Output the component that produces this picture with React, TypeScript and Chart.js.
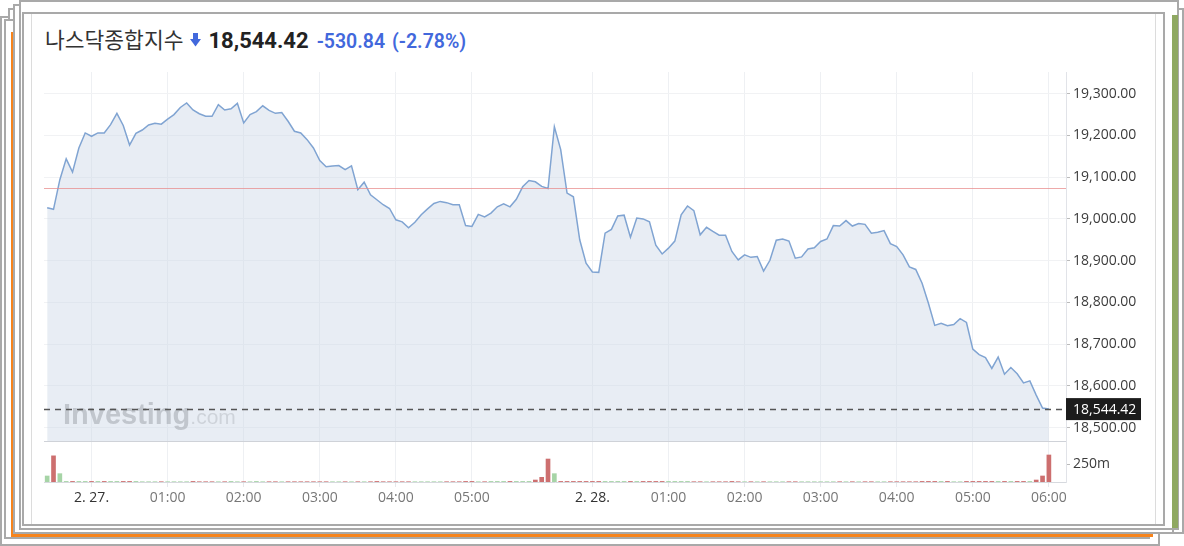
import React, { useEffect, useRef } from "react";
import { Chart, registerables } from "chart.js";

Chart.register(...registerables);

// ---- data ----
const prices: number[] = [
  19027, 19023, 19094, 19144, 19112, 19170, 19206, 19198, 19206, 19206,
  19226, 19253, 19224, 19177, 19205, 19213, 19225, 19229, 19227, 19239,
  19250, 19267, 19278, 19261, 19252, 19246, 19246, 19274, 19261, 19264,
  19277, 19230, 19250, 19257, 19271, 19260, 19253, 19255, 19234, 19210,
  19206, 19190, 19170, 19140, 19125, 19127, 19128, 19118, 19127, 19070,
  19088, 19058, 19046, 19034, 19025, 18998, 18993, 18979, 18992, 19010,
  19024, 19037, 19042, 19039, 19034, 19034, 18984, 18982, 19011, 19005,
  19014, 19029, 19036, 19029, 19047, 19077, 19092, 19089, 19078, 19073,
  19221, 19166, 19062, 19053, 18950, 18894, 18873, 18872, 18966, 18975,
  19007, 19009, 18956, 19002, 19000, 18993, 18937, 18916, 18930, 18947,
  19010, 19031, 19020, 18962, 18980, 18970, 18961, 18961, 18922, 18902,
  18914, 18908, 18910, 18875, 18901, 18949, 18952, 18947, 18906, 18909,
  18928, 18931, 18946, 18952, 18984, 18983, 18996, 18983, 18989, 18987,
  18966, 18968, 18972, 18941, 18934, 18914, 18885, 18879, 18846, 18798,
  18745, 18750, 18744, 18747, 18761, 18752, 18688, 18675, 18668, 18642,
  18669, 18628, 18644, 18629, 18607, 18612, 18578, 18547, 18544.42,
];

// volume in millions
const volumes: number[] = [
  85, 370, 118, 8, 8, 8, 8, 8, 8, 8,
  8, 8, 8, 8, 8, 4, 4, 4, 4, 4,
  4, 4, 4, 8, 4, 4, 4, 4, 4, 8,
  4, 4, 4, 8, 4, 4, 4, 4, 4, 4,
  4, 4, 4, 4, 4, 4, 4, 4, 4, 4,
  4, 4, 8, 4, 4, 4, 4, 4, 4, 4,
  4, 4, 4, 4, 4, 4, 8, 8, 4, 4,
  8, 8, 8, 8, 8, 8, 8, 28, 66, 325,
  118, 8, 8, 8, 8, 8, 8, 8, 8, 8,
  8, 8, 8, 8, 8, 8, 8, 8, 8, 8,
  8, 8, 4, 4, 4, 4, 4, 4, 8, 4,
  4, 4, 4, 4, 4, 4, 4, 4, 4, 4,
  4, 4, 4, 4, 4, 4, 4, 4, 4, 4,
  4, 4, 4, 4, 4, 4, 4, 4, 8, 8,
  8, 8, 8, 4, 4, 8, 8, 8, 8, 8,
  8, 8, 8, 8, 8, 8, 28, 85, 382,
];

const sessionStarts: string[] = ["2025-02-26T23:25:00Z", "2025-02-27T23:30:00Z"];
const sessionLengths: number[] = [80, 79];

const xTickTimes: string[] = [
  "02-27 00:00", "02-27 01:00", "02-27 02:00", "02-27 03:00", "02-27 04:00", "02-27 05:00",
  "02-28 00:00", "02-28 01:00", "02-28 02:00", "02-28 03:00", "02-28 04:00", "02-28 05:00", "02-28 06:00",
];
const xTickLabels: string[] = [
  "2. 27.", "01:00", "02:00", "03:00", "04:00", "05:00",
  "2. 28.", "01:00", "02:00", "03:00", "04:00", "05:00", "06:00",
];
const priceTicks: number[] = [18500, 18600, 18700, 18800, 18900, 19000, 19100, 19200, 19300];
const volumeTicks: number[] = [250];

const titleName = "나스닥종합지수";
const lastPrice = 18544.42;
const change = -530.84;
const changePct = -2.78;
const prevClose = 19075.26;

// ---- derived ----
const pad = (n: number) => String(n).padStart(2, "0");
const times: string[] = [];
sessionStarts.forEach((s, k) => {
  const t0 = Date.parse(s);
  for (let j = 0; j < sessionLengths[k]; j++) {
    const d = new Date(t0 + j * 5 * 60000);
    times.push(`${pad(d.getUTCMonth() + 1)}-${pad(d.getUTCDate())} ${pad(d.getUTCHours())}:${pad(d.getUTCMinutes())}`);
  }
});

const fmt2 = (v: number) =>
  v.toLocaleString("en-US", { minimumFractionDigits: 2, maximumFractionDigits: 2 });

const GREEN = "rgba(150,205,150,0.85)";
const RED = "rgba(200,95,95,0.9)";

const overlayPlugin = {
  id: "overlay",
  beforeDatasetsDraw(chart: any) {
    const { ctx, chartArea, scales } = chart;
    const paneBottom = scales.y.bottom;
    ctx.save();
    ctx.textBaseline = "alphabetic";
    ctx.fillStyle = "rgba(125,125,125,0.55)";
    ctx.font = "bold 29px 'Liberation Sans', Arial, sans-serif";
    const x0 = chartArea.left + 19;
    const yb = paneBottom - 17;
    ctx.fillText("Investing", x0, yb);
    const w = ctx.measureText("Investing").width;
    ctx.fillStyle = "rgba(150,150,150,0.45)";
    ctx.font = "21px 'Liberation Sans', Arial, sans-serif";
    ctx.fillText(".com", x0 + w, yb);
    ctx.restore();
  },
  afterDatasetsDraw(chart: any) {
    const { ctx, chartArea, scales } = chart;
    const y = scales.y;
    ctx.save();
    ctx.strokeStyle = "#cfd2d8";
    ctx.lineWidth = 1;
    ctx.beginPath();
    ctx.moveTo(chartArea.left, Math.round(y.bottom) + 0.5);
    ctx.lineTo(chartArea.right, Math.round(y.bottom) + 0.5);
    ctx.stroke();
    const yp = Math.round(y.getPixelForValue(prevClose)) + 0.5;
    ctx.strokeStyle = "rgba(232,140,140,0.75)";
    ctx.beginPath();
    ctx.moveTo(chartArea.left, yp);
    ctx.lineTo(chartArea.right, yp);
    ctx.stroke();
    const yl = Math.round(y.getPixelForValue(lastPrice)) + 0.5;
    ctx.strokeStyle = "#555";
    ctx.lineWidth = 1.3;
    ctx.setLineDash([6, 5]);
    ctx.beginPath();
    ctx.moveTo(chartArea.left, yl);
    ctx.lineTo(chartArea.right, yl);
    ctx.stroke();
    ctx.restore();
  },
  afterDraw(chart: any) {
    const { ctx, chartArea, scales } = chart;
    const yl = scales.y.getPixelForValue(lastPrice);
    ctx.save();
    ctx.fillStyle = "#1c1c1c";
    ctx.fillRect(chartArea.right, yl - 11, 75, 22);
    ctx.fillStyle = "#ffffff";
    ctx.font = "14px 'Open Sans', sans-serif";
    ctx.textBaseline = "middle";
    ctx.fillText(fmt2(lastPrice), chartArea.right + 7, yl + 1);
    ctx.restore();
  },
};

function PriceChart() {
  const ref = useRef<HTMLCanvasElement | null>(null);
  useEffect(() => {
    if (!ref.current) return;
    const lineData = prices.map((v, i) => ({ x: i, y: v }));
    const volData = volumes.map((v, i) => ({ x: i, y: v }));
    const volColors = volumes.map((_, i) => (i === 0 || prices[i] > prices[i - 1] ? GREEN : RED));
    const chart = new Chart(ref.current, {
      type: "line",
      data: {
        datasets: [
          {
            type: "line",
            data: lineData,
            yAxisID: "y",
            borderColor: "rgb(128,164,210)",
            borderWidth: 1.5,
            pointRadius: 0,
            fill: "start",
            backgroundColor: "rgba(205,215,230,0.45)",
            tension: 0,
          } as any,
          {
            type: "bar",
            data: volData,
            yAxisID: "yVol",
            backgroundColor: volColors,
            barThickness: 4,
          } as any,
        ],
      },
      options: {
        responsive: false,
        animation: false,
        devicePixelRatio: 1,
        layout: { padding: { left: 12, top: 12, right: 0, bottom: 0 } },
        plugins: { legend: { display: false }, tooltip: { enabled: false } },
        scales: {
          x: {
            type: "linear",
            offset: false,
            min: -0.5,
            max: 160.7,
            afterBuildTicks: (axis: any) => {
              axis.ticks = xTickTimes.map((t) => ({ value: times.indexOf(t) }));
            },
            afterFit: (axis: any) => {
              axis.height = 38;
            },
            grid: { offset: false, color: "#eef0f3", tickColor: "#e6e8ec", tickLength: 5, drawTicks: true },
            border: { color: "#d6d9de" },
            ticks: {
              autoSkip: false,
              maxRotation: 0,
              padding: 3,
              font: { family: "'Open Sans', sans-serif", size: 14 },
              color: (c: any) => (xTickLabels[c.index] && xTickLabels[c.index].startsWith("2.") ? "#333" : "#777"),
              callback: (_v: any, i: number) => xTickLabels[i],
            },
          },
          y: {
            type: "linear",
            position: "right",
            stack: "panes",
            stackWeight: 369,
            min: 18468,
            max: 19352,
            afterBuildTicks: (axis: any) => {
              axis.ticks = priceTicks.map((v) => ({ value: v }));
            },
            afterFit: (axis: any) => {
              axis.width = 88;
            },
            grid: { color: "#f1f2f4", tickColor: "#bbbbbb", tickLength: 4 },
            border: { color: "#e1e3e8" },
            ticks: {
              padding: 3,
              font: { family: "'Open Sans', sans-serif", size: 14 },
              color: "#3c3c3c",
              callback: (v: any) => fmt2(Number(v)),
            },
          },
          yVol: {
            type: "linear",
            position: "right",
            stack: "panes",
            stackWeight: 41,
            min: 0,
            max: 580,
            afterBuildTicks: (axis: any) => {
              axis.ticks = volumeTicks.map((v) => ({ value: v }));
            },
            afterFit: (axis: any) => {
              axis.width = 88;
            },
            grid: { color: "rgba(0,0,0,0)", tickColor: "#bbbbbb", tickLength: 4 },
            border: { color: "#e1e3e8" },
            ticks: {
              padding: 3,
              font: { family: "'Open Sans', sans-serif", size: 14 },
              color: "#3c3c3c",
              callback: (v: any) => `${v}m`,
            },
          },
        },
      } as any,
      plugins: [overlayPlugin as any],
    });
    return () => chart.destroy();
  }, []);
  return (
    <canvas
      ref={ref}
      width={1122}
      height={460}
      style={{ position: "absolute", left: 32, top: 60, width: 1122, height: 460 }}
    />
  );
}

const GRAY = "#a9a9a9";
const box = (left: number, top: number, right: number, bottom: number, extra: any = {}) => ({
  position: "absolute" as const,
  left,
  top,
  width: right - left,
  height: bottom - top,
  boxSizing: "border-box" as const,
  border: `2px solid ${GRAY}`,
  background: "#fff",
  ...extra,
});

export default function App() {
  const blue = "rgb(66,104,220)";
  return (
    <div style={{ position: "absolute", left: 0, top: 0, width: 1184, height: 546, background: "#fff", overflow: "hidden" }}>
      <div style={box(0, 16, 1160, 546)} />
      <div style={box(8, 8, 1184, 534)} />
      <div style={box(4, 19, 1150, 539)} />
      <div
        style={box(11, 32, 1153, 537, {
          border: "none",
          borderLeft: "3px solid #f7841c",
          borderBottom: "4px solid #f7841c",
        })}
      />
      <div style={box(13, 4, 1174, 534)} />
      <div style={box(19, 0, 1179, 530)} />
      <div style={{ position: "absolute", left: 1172, top: 15, width: 6, height: 513, background: "#8fa862" }} />
      <div style={box(22, 12, 1165, 526)} />
      <div style={{ position: "absolute", left: 31, top: 14, width: 1, height: 510, background: "#dcdcdc" }} />
      <div style={{ position: "absolute", left: 1155, top: 14, width: 1, height: 510, background: "#dcdcdc" }} />
      <div
        style={{
          position: "absolute",
          left: 45,
          top: 23,
          display: "flex",
          alignItems: "baseline",
          whiteSpace: "nowrap",
        }}
      >
        <span style={{ fontFamily: "'Noto Sans CJK KR', sans-serif", fontSize: 21.5, color: "#333" }}>{titleName}</span>
        <svg width="11" height="14" viewBox="0 0 11 14" style={{ marginLeft: 7, alignSelf: "center", marginTop: 2 }}>
          <rect x="3" y="0" width="5" height="7" fill={blue} />
          <polygon points="0,6 11,6 5.5,13.5" fill={blue} />
        </svg>
        <span style={{ fontFamily: "Roboto, sans-serif", fontWeight: 700, fontSize: 22, color: "#222", marginLeft: 7 }}>
          {fmt2(lastPrice)}
        </span>
        <span style={{ fontFamily: "Roboto, sans-serif", fontWeight: 600, fontSize: 19.5, color: blue, marginLeft: 8 }}>
          {fmt2(change)}
        </span>
        <span style={{ fontFamily: "Roboto, sans-serif", fontWeight: 600, fontSize: 19.5, color: blue, marginLeft: 7 }}>
          ({changePct.toFixed(2)}%)
        </span>
      </div>
      <PriceChart />
    </div>
  );
}
